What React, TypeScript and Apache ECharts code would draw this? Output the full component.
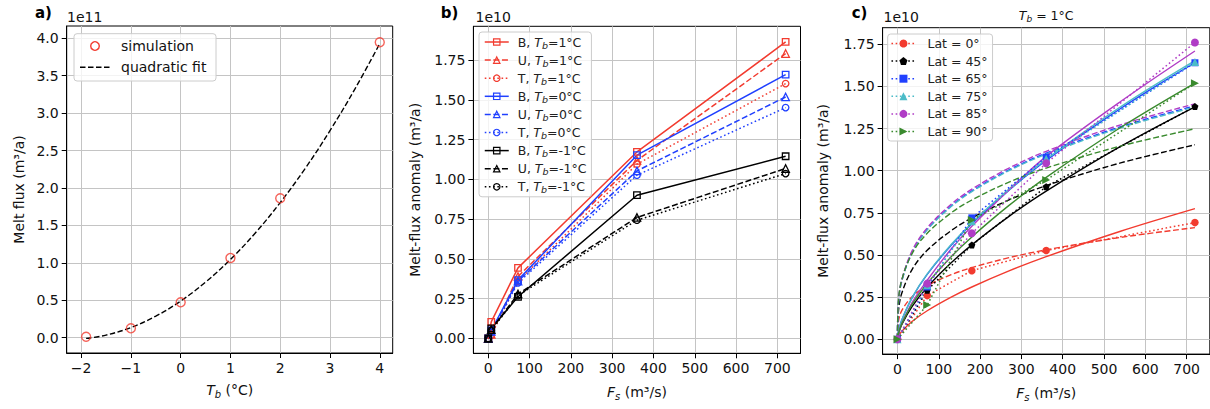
import React, { useEffect, useRef } from 'react';
import * as echarts from 'echarts';

const FONT = 'DejaVu Sans';

// ---------- Panel a ----------
const tbSim = [-1.9, -1, 0, 1, 2, 4];
const meltSim = [0.013, 0.126, 0.473, 1.066, 1.862, 3.946];
const tbFit = [-1.9, -1.5, -1, -0.5, 0, 0.5, 1, 1.5, 2, 2.5, 3, 3.5, 4];
const meltFit = [-0.009, 0.035, 0.136, 0.288, 0.49, 0.743, 1.046, 1.4, 1.805, 2.26, 2.766, 3.322, 3.929];
const aXTicks = [-2, -1, 0, 1, 2, 3, 4];
const aYTicks = [0, 0.5, 1, 1.5, 2, 2.5, 3, 3.5, 4];

// ---------- Panel b ----------
const fsB = [0, 7.2, 72, 360, 720];
const redB = [0, 0.104, 0.444, 1.173, 1.865];
const redU = [0, 0.025, 0.39, 1.12, 1.792];
const redT = [0, 0.02, 0.36, 1.096, 1.603];
const blueB = [0, 0.05, 0.367, 1.153, 1.66];
const blueU = [0, 0.045, 0.36, 1.054, 1.519];
const blueT = [0, 0.04, 0.35, 1.027, 1.452];
const blackB = [0, 0.063, 0.262, 0.901, 1.146];
const blackU = [0, 0.055, 0.28, 0.761, 1.069];
const blackT = [0, 0.05, 0.27, 0.744, 1.037];
const bcXTicks = [0, 100, 200, 300, 400, 500, 600, 700];
const bcYTicks = [0, 0.25, 0.5, 0.75, 1, 1.25, 1.5, 1.75];

// ---------- Panel c ----------
const fsC = [0, 72, 180, 360, 720];
const lat0 = [0, 0.259, 0.407, 0.526, 0.692];
const lat45 = [0, 0.29, 0.559, 0.905, 1.38];
const lat65 = [0, 0.31, 0.72, 1.08, 1.64];
const lat75 = [0, 0.32, 0.7, 1.07, 1.645];
const lat85 = [0, 0.33, 0.629, 1.044, 1.76];
const lat90 = [0, 0.203, 0.708, 0.945, 1.519];

const fsFit = [0, 2, 10, 36, 72, 130, 180, 270, 360, 540, 720];
const lat0Dash = [0, 0.1007, 0.1686, 0.2539, 0.317, 0.383, 0.425, 0.4839, 0.5305, 0.604, 0.6623];
const lat45Dash = [0, 0.156, 0.2695, 0.4166, 0.5273, 0.6446, 0.72, 0.8264, 0.9114, 1.046, 1.1535];
const lat65Dash = [0, 0.202, 0.342, 0.5199, 0.6522, 0.7912, 0.88, 1.0048, 1.1039, 1.2604, 1.3847];
const lat75Dash = [0, 0.201, 0.34, 0.517, 0.649, 0.787, 0.876, 1.0, 1.098, 1.254, 1.378];
const lat85Dash = [0, 0.2062, 0.3479, 0.5275, 0.6608, 0.8006, 0.89, 1.0154, 1.1149, 1.2719, 1.3965];
const lat90Dash = [0, 0.2161, 0.3491, 0.5113, 0.6286, 0.7497, 0.826, 0.9321, 1.0155, 1.1459, 1.2485];

const lat0Solid = [0, 0.0158, 0.0459, 0.107, 0.1692, 0.25, 0.31, 0.4053, 0.4901, 0.6409, 0.775];
const lat45Solid = [0, 0.0301, 0.0856, 0.1967, 0.3087, 0.4533, 0.56, 0.7289, 0.8787, 1.1437, 1.3789];
const lat65Solid = [0, 0.0402, 0.1109, 0.2485, 0.3846, 0.558, 0.685, 0.8844, 1.06, 1.3686, 1.6406];
const lat75Solid = [0, 0.0405, 0.1117, 0.2503, 0.3874, 0.5621, 0.69, 0.8909, 1.0678, 1.3786, 1.6526];
const lat85Solid = [0, 0.03, 0.09, 0.22, 0.35, 0.535, 0.67, 0.885, 1.085, 1.41, 1.71];
const lat90Solid = [0, 0.0309, 0.0896, 0.2092, 0.3309, 0.4894, 0.607, 0.7939, 0.9604, 1.2562, 1.5196];

// ---------- styles ----------
const RED = '#f23b2f';
const BLUE = '#2040ff';
const BLACK = '#000000';
const CYAN = '#4cbcc8';
const PURPLE = '#b03cc6';
const GREEN = '#3a8a2e';
const DASH = [6, 2.6];
const DOT = [1.6, 2.6];
const LW = 1.5;
const PENTAGON = 'path://M0,-10L9.51,-3.09L5.88,8.09L-5.88,8.09L-9.51,-3.09Z';
const RIGHT_TRI = 'path://M0,0L10,5L0,10Z';

const pairs = (xs: number[], ys: number[]) => xs.map((x, i) => [x, ys[i]]);

const bDefs = [
  { name: 'B, Tb=1°C', ys: redB, color: RED, line: 'solid', symbol: 'rect' },
  { name: 'U, Tb=1°C', ys: redU, color: RED, line: DASH, symbol: 'triangle' },
  { name: 'T, Tb=1°C', ys: redT, color: RED, line: DOT, symbol: 'circle' },
  { name: 'B, Tb=0°C', ys: blueB, color: BLUE, line: 'solid', symbol: 'rect' },
  { name: 'U, Tb=0°C', ys: blueU, color: BLUE, line: DASH, symbol: 'triangle' },
  { name: 'T, Tb=0°C', ys: blueT, color: BLUE, line: DOT, symbol: 'circle' },
  { name: 'B, Tb=-1°C', ys: blackB, color: BLACK, line: 'solid', symbol: 'rect' },
  { name: 'U, Tb=-1°C', ys: blackU, color: BLACK, line: DASH, symbol: 'triangle' },
  { name: 'T, Tb=-1°C', ys: blackT, color: BLACK, line: DOT, symbol: 'circle' },
];

const cDefs = [
  { name: 'Lat = 0°', pts: lat0, dash: lat0Dash, solid: lat0Solid, color: RED, symbol: 'circle', size: 7.5 },
  { name: 'Lat = 45°', pts: lat45, dash: lat45Dash, solid: lat45Solid, color: BLACK, symbol: PENTAGON, size: 7 },
  { name: 'Lat = 65°', pts: lat65, dash: lat65Dash, solid: lat65Solid, color: BLUE, symbol: 'rect', size: 7 },
  { name: 'Lat = 75°', pts: lat75, dash: lat75Dash, solid: lat75Solid, color: CYAN, symbol: 'triangle', size: 8 },
  { name: 'Lat = 85°', pts: lat85, dash: lat85Dash, solid: lat85Solid, color: PURPLE, symbol: 'circle', size: 8 },
  { name: 'Lat = 90°', pts: lat90, dash: lat90Dash, solid: lat90Solid, color: GREEN, symbol: RIGHT_TRI, size: 8 },
];

const subRich = {
  i: { fontStyle: 'italic', fontFamily: FONT },
  s: { fontStyle: 'italic', fontFamily: FONT, fontSize: 9.5, lineHeight: 9, verticalAlign: 'bottom' },
};

function makeAxis(gridIndex: number, min: number, max: number, ticks: number[], fmt: (v: number) => string, extra: any) {
  return {
    type: 'value',
    gridIndex,
    min,
    max,
    axisLine: { show: true, onZero: false, lineStyle: { color: '#000', width: 1 } },
    axisTick: { show: true, customValues: ticks, length: 5, lineStyle: { color: '#000', width: 1 } },
    axisLabel: { customValues: ticks, formatter: fmt, color: '#111', fontFamily: FONT, fontSize: 14, margin: 8 },
    splitLine: { show: true, lineStyle: { color: '#c4c4c4', width: 1 } },
    nameLocation: 'middle',
    nameTextStyle: { color: '#111', fontFamily: FONT, fontSize: 14, lineHeight: 18, rich: { i: { fontStyle: 'italic', fontSize: 14, lineHeight: 18, fontFamily: FONT }, s: { fontStyle: 'italic', fontSize: 10, lineHeight: 10, verticalAlign: 'bottom', fontFamily: FONT } } },
    ...extra,
  };
}

const fmtMinus = (v: number) => (v < 0 ? '\u2212' + Math.abs(v) : String(v));
const fmt1 = (v: number) => v.toFixed(1);
const fmt2 = (v: number) => v.toFixed(2);

function txt(x: number, y: number, text: string, extra: any = {}) {
  return {
    type: 'text', x, y, z: 100,
    style: { text, fontFamily: FONT, fontSize: 14, fill: '#111', align: 'left', verticalAlign: 'middle', ...extra },
  };
}

function buildOption() {
  const gridBase = { show: true, borderColor: '#000', borderWidth: 1, backgroundColor: 'transparent', containLabel: false, outerBoundsMode: 'none' };
  const series: any[] = [];

  // panel a
  series.push({
    name: 'quadratic fit', type: 'line', xAxisIndex: 0, yAxisIndex: 0,
    data: pairs(tbFit, meltFit), smooth: 0.4, showSymbol: false, symbol: 'none',
    lineStyle: { color: '#000', width: 1.4, type: [5.5, 2.5] }, z: 3,
  });
  series.push({
    name: 'simulation', type: 'scatter', xAxisIndex: 0, yAxisIndex: 0,
    data: pairs(tbSim, meltSim), symbol: 'circle', symbolSize: 9,
    itemStyle: { color: 'rgba(255,255,255,0)', borderColor: RED, borderWidth: 1.4 }, z: 4,
  });

  // panel b
  bDefs.forEach((d) => {
    series.push({
      name: d.name, type: 'line', xAxisIndex: 1, yAxisIndex: 1,
      data: pairs(fsB, d.ys), symbol: d.symbol, symbolSize: d.symbol === 'triangle' ? 7.5 : 6.5,
      lineStyle: { color: d.color, width: LW, type: d.line },
      itemStyle: { color: 'rgba(255,255,255,0)', borderColor: d.color, borderWidth: 1.3 },
    });
  });

  // panel c
  cDefs.forEach((d, k) => {
    series.push({
      name: d.name, type: 'line', xAxisIndex: 2, yAxisIndex: 2,
      data: pairs(fsC, d.pts), symbol: d.symbol, symbolSize: d.size,
      lineStyle: { color: d.color, width: LW, type: DOT },
      itemStyle: { color: d.color, borderWidth: 0 }, z: 4,
    });
    series.push({
      name: 'dash-' + k, type: 'line', xAxisIndex: 2, yAxisIndex: 2,
      data: pairs(fsFit, d.dash), smooth: 0.35, showSymbol: false, symbol: 'none',
      lineStyle: { color: d.color, width: 1.4, type: DASH }, z: 3,
    });
    series.push({
      name: 'solid-' + k, type: 'line', xAxisIndex: 2, yAxisIndex: 2,
      data: pairs(fsFit, d.solid), smooth: 0.35, showSymbol: false, symbol: 'none',
      lineStyle: { color: d.color, width: 1.4, type: 'solid' }, z: 3,
    });
  });

  const legendText = { color: '#222', fontFamily: FONT, fontSize: 12.5 };

  return {
    animation: false,
    textStyle: { fontFamily: FONT },
    grid: [
      { ...gridBase, left: 66.7, top: 26, width: 326, height: 327 },
      { ...gridBase, left: 473.4, top: 26.3, width: 327.1, height: 327 },
      { ...gridBase, left: 882.6, top: 27.7, width: 327.2, height: 326.4 },
    ],
    xAxis: [
      makeAxis(0, -2.29, 4.26, aXTicks, fmtMinus, { name: '{i|T}{s|b} (°C)', nameGap: 28 }),
      makeAxis(1, -36, 756, bcXTicks, (v: number) => String(v), { name: '{i|F}{s|s} (m³/s)', nameGap: 30 }),
      makeAxis(2, -36, 756, bcXTicks, (v: number) => String(v), { name: '{i|F}{s|s} (m³/s)', nameGap: 30 }),
    ],
    yAxis: [
      makeAxis(0, -0.204, 4.164, aYTicks, fmt1, { name: 'Melt flux (m³/a)', nameGap: 39, nameRotate: 90 }),
      makeAxis(1, -0.0935, 1.9635, bcYTicks, fmt2, { name: 'Melt-flux anomaly (m³/a)', nameGap: 49, nameRotate: 90 }),
      makeAxis(2, -0.088, 1.848, bcYTicks, fmt2, { name: 'Melt-flux anomaly (m³/a)', nameGap: 51, nameRotate: 90 }),
    ],
    legend: [
      {
        left: 479, top: 32, orient: 'vertical', data: bDefs.map((d) => d.name),
        itemWidth: 24, itemHeight: 8, itemGap: 2.1, padding: [2, 5, 2, 5],
        backgroundColor: 'rgba(255,255,255,0.8)', borderColor: '#cccccc', borderWidth: 1, borderRadius: 3,
        lineStyle: { width: LW }, itemStyle: { borderWidth: 1.2 },
        formatter: (name: string) => {
          const [p, q] = name.split('Tb');
          return `${p}{i|T}{s|b}${q}`;
        },
        textStyle: { ...legendText, lineHeight: 16, padding: [0, 0, 0, 4], rich: { i: { ...subRich.i, fontSize: 12.5, lineHeight: 16 }, s: subRich.s } },
        selectedMode: false,
      },
      {
        left: 887.7, top: 34, orient: 'vertical', data: cDefs.map((d) => d.name),
        itemWidth: 24, itemHeight: 10, itemGap: 2.6, padding: [2, 5, 2, 3],
        backgroundColor: 'rgba(255,255,255,0.8)', borderColor: '#cccccc', borderWidth: 1, borderRadius: 3,
        lineStyle: { width: LW },
        textStyle: { ...legendText, lineHeight: 15, padding: [0, 0, 0, 7] },
        selectedMode: false,
      },
    ],
    graphic: [
      // panel a legend
      { type: 'rect', z: 100, shape: { x: 74, y: 33.7, width: 142, height: 47.3, r: 3 }, style: { fill: 'rgba(255,255,255,0.8)', stroke: '#cccccc', lineWidth: 1 } },
      { type: 'circle', z: 101, shape: { cx: 95, cy: 46, r: 4.3 }, style: { fill: 'none', stroke: RED, lineWidth: 1.4 } },
      { type: 'line', z: 101, shape: { x1: 80, y1: 67.3, x2: 110, y2: 67.3 }, style: { stroke: '#000', lineWidth: 1.4, lineDash: [5.5, 2.5] } },
      txt(121, 46, 'simulation', { z: 102 }),
      txt(121, 67.3, 'quadratic fit', { z: 102 }),
      // offset labels
      txt(67, 17.3, '1e11'),
      txt(475.5, 17.3, '1e10'),
      txt(883.5, 17.3, '1e10'),
      // panel letters
      txt(35, 13, 'a)', { fontWeight: 'bold', fontSize: 15, fill: '#000' }),
      txt(440.7, 13, 'b)', { fontWeight: 'bold', fontSize: 15, fill: '#000' }),
      txt(851.7, 13.3, 'c)', { fontWeight: 'bold', fontSize: 15, fill: '#000' }),
      // panel c title
      txt(1046.2, 15.7, '{i|T}{s|b} = 1°C', {
        align: 'center', fontSize: 12.5, lineHeight: 16,
        rich: { i: { fontStyle: 'italic', fontSize: 12.5, lineHeight: 16, fontFamily: FONT }, s: { fontStyle: 'italic', fontSize: 9, lineHeight: 9, verticalAlign: 'bottom', fontFamily: FONT } },
      }),
    ],
    series,
  };
}

export default function App() {
  const ref = useRef<HTMLDivElement>(null);
  useEffect(() => {
    if (!ref.current) return;
    const chart = echarts.init(ref.current, undefined, { renderer: 'svg' });
    chart.setOption(buildOption() as any);
    return () => chart.dispose();
  }, []);
  return (
    <div
      ref={ref}
      style={{ position: 'absolute', left: 0, top: 0, width: 1210, height: 409, background: '#fff' }}
    />
  );
}
